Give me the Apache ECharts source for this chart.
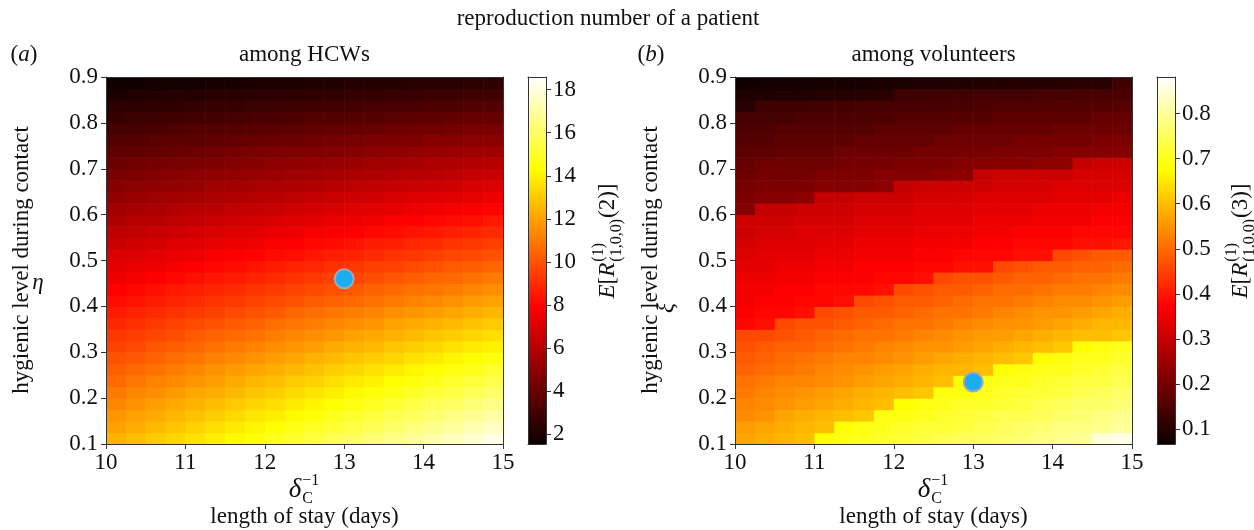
<!DOCTYPE html>
<html>
<head>
<meta charset="utf-8">
<title>reproduction number of a patient</title>
<script src="https://cdn.jsdelivr.net/npm/echarts@6/dist/echarts.min.js"></script>
<style>
  html, body { margin: 0; padding: 0; background: #ffffff; }
  #chart { width: 1254px; height: 530px; }
</style>
</head>
<body>
<div id="chart"></div>
<script>
// Cell centres: length of stay (days) and hygienic level during contact
const stayDays = [10.125, 10.375, 10.625, 10.875, 11.125, 11.375, 11.625, 11.875, 12.125, 12.375,
                  12.625, 12.875, 13.125, 13.375, 13.625, 13.875, 14.125, 14.375, 14.625, 14.875];
const hygieneLevels = [0.1125, 0.1375, 0.1625, 0.1875, 0.2125, 0.2375, 0.2625, 0.2875, 0.3125, 0.3375,
                       0.3625, 0.3875, 0.4125, 0.4375, 0.4625, 0.4875, 0.5125, 0.5375, 0.5625, 0.5875,
                       0.6125, 0.6375, 0.6625, 0.6875, 0.7125, 0.7375, 0.7625, 0.7875, 0.8125, 0.8375,
                       0.8625, 0.8875];

// Colour-scale limits and colourbar ticks
const hcwRange = [1.54, 18.59];
const hcwTicks = [2, 4, 6, 8, 10, 12, 14, 16, 18];
const volRange = [0.067, 0.881];
const volTicks = [0.1, 0.2, 0.3, 0.4, 0.5, 0.6, 0.7, 0.8];

// Baseline scenario markers [length of stay, hygienic level]
const hcwPoint = [13, 0.46];
const volPoint = [13, 0.235];

// E[R(2)] among HCWs: one row per hygienic level (bottom to top), one column per length of stay
const hcwValues = [
  [12.4,12.7,13.0,13.3,13.6,13.9,14.2,14.5,14.8,15.1,15.4,15.7,16.0,16.3,16.6,16.9,17.2,17.5,17.8,18.1],
  [12.0,12.3,12.6,12.9,13.2,13.5,13.8,14.1,14.4,14.7,15.0,15.2,15.5,15.8,16.1,16.4,16.7,17.0,17.3,17.6],
  [11.7,12.0,12.2,12.5,12.8,13.1,13.4,13.7,13.9,14.2,14.5,14.8,15.1,15.4,15.7,15.9,16.2,16.5,16.8,17.1],
  [11.3,11.6,11.9,12.2,12.4,12.7,13.0,13.3,13.5,13.8,14.1,14.4,14.6,14.9,15.2,15.5,15.8,16.0,16.3,16.6],
  [11.0,11.3,11.5,11.8,12.1,12.3,12.6,12.9,13.1,13.4,13.7,13.9,14.2,14.5,14.7,15.0,15.3,15.5,15.8,16.1],
  [10.6,10.9,11.2,11.4,11.7,11.9,12.2,12.5,12.7,13.0,13.2,13.5,13.8,14.0,14.3,14.5,14.8,15.1,15.3,15.6],
  [10.3,10.6,10.8,11.1,11.3,11.6,11.8,12.1,12.3,12.6,12.8,13.1,13.3,13.6,13.8,14.1,14.3,14.6,14.8,15.1],
  [10.0,10.2,10.4,10.7,10.9,11.2,11.4,11.6,11.9,12.1,12.4,12.6,12.9,13.1,13.3,13.6,13.8,14.1,14.3,14.6],
  [9.6,9.8,10.1,10.3,10.5,10.8,11.0,11.2,11.5,11.7,11.9,12.2,12.4,12.6,12.9,13.1,13.3,13.6,13.8,14.0],
  [9.3,9.5,9.7,9.9,10.2,10.4,10.6,10.8,11.1,11.3,11.5,11.7,12.0,12.2,12.4,12.6,12.9,13.1,13.3,13.5],
  [8.9,9.1,9.4,9.6,9.8,10.0,10.2,10.4,10.7,10.9,11.1,11.3,11.5,11.7,12.0,12.2,12.4,12.6,12.8,13.0],
  [8.6,8.8,9.0,9.2,9.4,9.6,9.8,10.0,10.2,10.5,10.7,10.9,11.1,11.3,11.5,11.7,11.9,12.1,12.3,12.5],
  [8.2,8.4,8.6,8.8,9.0,9.2,9.4,9.6,9.8,10.0,10.2,10.4,10.6,10.8,11.0,11.2,11.4,11.6,11.8,12.0],
  [7.9,8.1,8.3,8.5,8.7,8.8,9.0,9.2,9.4,9.6,9.8,10.0,10.2,10.4,10.6,10.8,10.9,11.1,11.3,11.5],
  [7.5,7.7,7.9,8.1,8.3,8.5,8.6,8.8,9.0,9.2,9.4,9.6,9.7,9.9,10.1,10.3,10.5,10.6,10.8,11.0],
  [7.2,7.4,7.5,7.7,7.9,8.1,8.2,8.4,8.6,8.8,8.9,9.1,9.3,9.5,9.6,9.8,10.0,10.2,10.3,10.5],
  [6.9,7.0,7.2,7.4,7.5,7.7,7.9,8.0,8.2,8.3,8.5,8.7,8.8,9.0,9.2,9.3,9.5,9.7,9.8,10.0],
  [6.5,6.7,6.8,7.0,7.1,7.3,7.5,7.6,7.8,7.9,8.1,8.2,8.4,8.6,8.7,8.9,9.0,9.2,9.3,9.5],
  [6.2,6.3,6.5,6.6,6.8,6.9,7.1,7.2,7.4,7.5,7.7,7.8,7.9,8.1,8.2,8.4,8.5,8.7,8.8,9.0],
  [5.8,6.0,6.1,6.2,6.4,6.5,6.7,6.8,6.9,7.1,7.2,7.4,7.5,7.6,7.8,7.9,8.1,8.2,8.3,8.5],
  [5.5,5.6,5.7,5.9,6.0,6.1,6.3,6.4,6.5,6.7,6.8,6.9,7.1,7.2,7.3,7.5,7.6,7.7,7.8,8.0],
  [5.1,5.3,5.4,5.5,5.6,5.7,5.9,6.0,6.1,6.2,6.4,6.5,6.6,6.7,6.9,7.0,7.1,7.2,7.3,7.5],
  [4.8,4.9,5.0,5.1,5.2,5.4,5.5,5.6,5.7,5.8,5.9,6.1,6.2,6.3,6.4,6.5,6.6,6.7,6.9,7.0],
  [4.4,4.5,4.7,4.8,4.9,5.0,5.1,5.2,5.3,5.4,5.5,5.6,5.7,5.8,5.9,6.0,6.1,6.2,6.4,6.5],
  [4.1,4.2,4.3,4.4,4.5,4.6,4.7,4.8,4.9,5.0,5.1,5.2,5.3,5.4,5.5,5.6,5.7,5.8,5.9,6.0],
  [3.8,3.8,3.9,4.0,4.1,4.2,4.3,4.4,4.5,4.6,4.6,4.7,4.8,4.9,5.0,5.1,5.2,5.3,5.4,5.5],
  [3.4,3.5,3.6,3.7,3.7,3.8,3.9,4.0,4.1,4.1,4.2,4.3,4.4,4.5,4.5,4.6,4.7,4.8,4.9,4.9],
  [3.1,3.1,3.2,3.3,3.4,3.4,3.5,3.6,3.6,3.7,3.8,3.9,3.9,4.0,4.1,4.2,4.2,4.3,4.4,4.4],
  [2.7,2.8,2.8,2.9,3.0,3.0,3.1,3.2,3.2,3.3,3.4,3.4,3.5,3.5,3.6,3.7,3.7,3.8,3.9,3.9],
  [2.4,2.4,2.5,2.5,2.6,2.7,2.7,2.8,2.8,2.9,2.9,3.0,3.0,3.1,3.2,3.2,3.3,3.3,3.4,3.4],
  [2.0,2.1,2.1,2.2,2.2,2.3,2.3,2.4,2.4,2.5,2.5,2.5,2.6,2.6,2.7,2.7,2.8,2.8,2.9,2.9],
  [1.7,1.7,1.8,1.8,1.8,1.9,1.9,2.0,2.0,2.0,2.1,2.1,2.2,2.2,2.2,2.3,2.3,2.3,2.4,2.4]
];

// E[R(3)] among volunteers, same layout
const volValues = [
  [0.57,0.58,0.59,0.60,0.68,0.69,0.70,0.71,0.72,0.73,0.74,0.75,0.75,0.76,0.77,0.78,0.79,0.80,0.85,0.86],
  [0.56,0.57,0.58,0.59,0.60,0.68,0.69,0.70,0.71,0.72,0.72,0.73,0.74,0.75,0.76,0.77,0.78,0.78,0.79,0.80],
  [0.54,0.55,0.57,0.58,0.59,0.60,0.61,0.69,0.69,0.70,0.71,0.72,0.73,0.74,0.74,0.75,0.76,0.77,0.78,0.79],
  [0.53,0.54,0.55,0.56,0.57,0.58,0.59,0.60,0.68,0.69,0.70,0.71,0.71,0.72,0.73,0.74,0.75,0.76,0.76,0.77],
  [0.52,0.53,0.54,0.55,0.56,0.57,0.58,0.59,0.60,0.61,0.69,0.69,0.70,0.71,0.72,0.72,0.73,0.74,0.75,0.76],
  [0.51,0.52,0.53,0.53,0.54,0.55,0.56,0.57,0.58,0.59,0.60,0.68,0.69,0.70,0.70,0.71,0.72,0.73,0.73,0.74],
  [0.49,0.50,0.51,0.52,0.53,0.54,0.55,0.56,0.57,0.58,0.59,0.59,0.60,0.68,0.69,0.70,0.70,0.71,0.72,0.73],
  [0.48,0.49,0.50,0.51,0.52,0.53,0.53,0.54,0.55,0.56,0.57,0.58,0.59,0.60,0.61,0.68,0.69,0.70,0.70,0.71],
  [0.47,0.48,0.49,0.49,0.50,0.51,0.52,0.53,0.54,0.55,0.55,0.56,0.57,0.58,0.59,0.60,0.61,0.68,0.69,0.70],
  [0.46,0.46,0.47,0.48,0.49,0.50,0.51,0.51,0.52,0.53,0.54,0.55,0.56,0.56,0.57,0.58,0.59,0.60,0.60,0.61],
  [0.38,0.39,0.46,0.47,0.47,0.48,0.49,0.50,0.51,0.51,0.52,0.53,0.54,0.55,0.55,0.56,0.57,0.58,0.59,0.59],
  [0.37,0.38,0.38,0.39,0.46,0.47,0.48,0.48,0.49,0.50,0.51,0.51,0.52,0.53,0.54,0.55,0.55,0.56,0.57,0.58],
  [0.36,0.37,0.37,0.38,0.38,0.39,0.46,0.47,0.48,0.48,0.49,0.50,0.51,0.51,0.52,0.53,0.54,0.54,0.55,0.56],
  [0.36,0.36,0.37,0.37,0.38,0.38,0.38,0.39,0.46,0.47,0.48,0.48,0.49,0.50,0.50,0.51,0.52,0.52,0.53,0.54],
  [0.35,0.35,0.36,0.36,0.37,0.37,0.37,0.38,0.38,0.39,0.46,0.47,0.47,0.48,0.49,0.49,0.50,0.51,0.51,0.52],
  [0.34,0.34,0.35,0.35,0.36,0.36,0.37,0.37,0.37,0.38,0.38,0.39,0.39,0.46,0.47,0.48,0.48,0.49,0.49,0.50],
  [0.33,0.34,0.34,0.34,0.35,0.35,0.36,0.36,0.36,0.37,0.37,0.38,0.38,0.38,0.39,0.39,0.46,0.47,0.48,0.48],
  [0.32,0.33,0.33,0.33,0.34,0.34,0.35,0.35,0.35,0.36,0.36,0.36,0.37,0.37,0.38,0.38,0.38,0.39,0.39,0.40],
  [0.31,0.32,0.32,0.33,0.33,0.33,0.34,0.34,0.34,0.35,0.35,0.35,0.36,0.36,0.37,0.37,0.37,0.38,0.38,0.38],
  [0.31,0.31,0.31,0.32,0.32,0.32,0.33,0.33,0.33,0.34,0.34,0.34,0.35,0.35,0.35,0.36,0.36,0.36,0.37,0.37],
  [0.22,0.30,0.30,0.31,0.31,0.31,0.32,0.32,0.32,0.33,0.33,0.33,0.34,0.34,0.34,0.35,0.35,0.35,0.36,0.36],
  [0.21,0.22,0.22,0.23,0.30,0.30,0.31,0.31,0.31,0.32,0.32,0.32,0.33,0.33,0.33,0.33,0.34,0.34,0.34,0.35],
  [0.20,0.21,0.21,0.21,0.22,0.22,0.22,0.23,0.30,0.31,0.31,0.31,0.31,0.32,0.32,0.32,0.33,0.33,0.33,0.33],
  [0.19,0.20,0.20,0.20,0.21,0.21,0.21,0.22,0.22,0.22,0.23,0.23,0.30,0.31,0.31,0.31,0.31,0.32,0.32,0.32],
  [0.18,0.19,0.19,0.19,0.19,0.20,0.20,0.20,0.21,0.21,0.21,0.22,0.22,0.22,0.22,0.23,0.23,0.30,0.31,0.31],
  [0.17,0.17,0.18,0.18,0.18,0.19,0.19,0.19,0.19,0.20,0.20,0.20,0.20,0.21,0.21,0.21,0.22,0.22,0.22,0.22],
  [0.16,0.16,0.17,0.17,0.17,0.17,0.18,0.18,0.18,0.18,0.19,0.19,0.19,0.19,0.20,0.20,0.20,0.20,0.21,0.21],
  [0.15,0.15,0.16,0.16,0.16,0.16,0.16,0.17,0.17,0.17,0.17,0.18,0.18,0.18,0.18,0.18,0.19,0.19,0.19,0.19],
  [0.14,0.14,0.14,0.15,0.15,0.15,0.15,0.15,0.16,0.16,0.16,0.16,0.16,0.17,0.17,0.17,0.17,0.17,0.18,0.18],
  [0.104,0.132,0.133,0.135,0.137,0.138,0.140,0.142,0.143,0.145,0.147,0.148,0.150,0.152,0.153,0.155,0.157,0.158,0.160,0.162],
  [0.090,0.092,0.094,0.096,0.098,0.100,0.102,0.104,0.131,0.132,0.134,0.135,0.136,0.138,0.139,0.141,0.142,0.144,0.145,0.147],
  [0.075,0.077,0.078,0.080,0.082,0.083,0.085,0.087,0.088,0.090,0.091,0.093,0.095,0.096,0.098,0.100,0.101,0.103,0.104,0.131]
];

// "hot" colour map, evenly spaced stops
const HOT = ['#0b0000', '#5c0000', '#ae0000', '#ff0000', '#ff5500', '#ffaa00', '#ffff00', '#ffff80', '#ffffff'];

const SERIF = '"Liberation Serif", "Times New Roman", "DejaVu Serif", serif';
const INK = '#111111';
const FRAME = '#333333';
const FS = 23;

const halfX = (stayDays[1] - stayDays[0]) / 2;
const halfY = (hygieneLevels[1] - hygieneLevels[0]) / 2;

function toCells(values) {
  const out = [];
  values.forEach((row, j) => row.forEach((v, i) => out.push([stayDays[i], hygieneLevels[j], v])));
  return out;
}

function renderCell(params, api) {
  const x = api.value(0), y = api.value(1);
  const a = api.coord([x - halfX, y + halfY]);
  const b = api.coord([x + halfX, y - halfY]);
  return {
    type: 'rect',
    shape: { x: a[0], y: a[1], width: b[0] - a[0] + 0.6, height: b[1] - a[1] + 0.6 },
    style: { fill: api.visual('color') }
  };
}

function renderBar(params, api) {
  const a = api.coord([0, api.value(2)]);
  const b = api.coord([1, api.value(1)]);
  return {
    type: 'rect',
    shape: { x: a[0], y: a[1], width: b[0] - a[0], height: b[1] - a[1] },
    style: {
      fill: new echarts.graphic.LinearGradient(0, 1, 0, 0,
        HOT.map((c, k) => ({ offset: k / (HOT.length - 1), color: c })))
    }
  };
}

// --- axes helpers ---
function lineAxis(gridIndex, position, min, max) {
  return {
    type: 'value', gridIndex, position, min, max, z: 5,
    axisLine: { show: true, onZero: false, lineStyle: { color: FRAME, width: 1 } },
    axisTick: { show: false }, axisLabel: { show: false }, splitLine: { show: false }
  };
}
function tickAxis(gridIndex, position, min, max, interval, margin) {
  return {
    type: 'value', gridIndex, position, min, max, interval, z: 5,
    axisLine: { show: true, onZero: false, lineStyle: { color: FRAME, width: 1 } },
    axisTick: { show: true, inside: false, length: 5, lineStyle: { color: FRAME } },
    axisLabel: { show: true, margin, color: INK, fontSize: FS, fontFamily: SERIF },
    splitLine: { show: false }
  };
}
function barAxis(gridIndex, range, ticks, digits) {
  return {
    type: 'value', gridIndex, position: 'right', min: range[0], max: range[1], z: 5,
    axisLine: { show: true, onZero: false, lineStyle: { color: FRAME, width: 1 } },
    axisTick: { show: true, inside: false, length: 5, customValues: ticks, lineStyle: { color: FRAME } },
    axisLabel: {
      show: true, customValues: ticks, margin: 7, color: INK, fontSize: FS, fontFamily: SERIF,
      formatter: v => Number(v).toFixed(digits)
    },
    splitLine: { show: false }
  };
}

// --- typeset labels with stacked super/subscripts ---
const measureCtx = document.createElement('canvas').getContext('2d');
function textWidth(t, size, italic) {
  measureCtx.font = (italic ? 'italic ' : '') + size + 'px ' + SERIF;
  return measureCtx.measureText(t).width;
}
function mathRun(parts, base, small) {
  let x = 0;
  const kids = [];
  const txt = (t, px, py, size, italic) => ({
    type: 'text', x: px, y: py,
    style: { text: t, font: (italic ? 'italic ' : '') + size + 'px ' + SERIF, fill: INK, align: 'left', verticalAlign: 'middle' }
  });
  parts.forEach(p => {
    if (p.t !== undefined) {
      const size = p.size || base;
      kids.push(txt(p.t, x, 0, size, p.italic));
      x += textWidth(p.t, size, p.italic);
    } else {
      const w = Math.max(textWidth(p.sup || '', small), textWidth(p.sub || '', small));
      if (p.sup) kids.push(txt(p.sup, x + 1, -base * 0.42, small, false));
      if (p.sub) kids.push(txt(p.sub, x + 1, base * 0.40, small, false));
      x += w + 2;
    }
  });
  kids.forEach(k => { k.x -= x / 2; });
  return kids;
}
function group(x, y, children, rotation) {
  return { type: 'group', x, y, rotation: rotation || 0, children };
}
function plain(t, x, y, size, rotation) {
  return group(x, y, [{
    type: 'text', x: 0, y: 0,
    style: { text: t, font: (size || FS) + 'px ' + SERIF, fill: INK, align: 'center', verticalAlign: 'middle' }
  }], rotation);
}

const UP = Math.PI / 2;
const stayName = [{ t: 'δ', italic: true, size: 27 }, { sup: '−1', sub: 'C' }];
const cbarName = n => [{ t: 'E', italic: true }, { t: '[' }, { t: 'R', italic: true },
                       { sup: '(1)', sub: '(1,0,0)' }, { t: '(' + n + ')]' }];

const graphics = [
  plain('reproduction number of a patient', 608, 19),
  group(24, 55, mathRun([{ t: '(' }, { t: 'a', italic: true }, { t: ')' }], FS, 16)),
  plain('among HCWs', 304.5, 55),
  group(651, 55, mathRun([{ t: '(' }, { t: 'b', italic: true }, { t: ')' }], FS, 16)),
  plain('among volunteers', 933.5, 55),

  plain('hygienic level during contact', 22, 260, FS, UP),
  group(38, 283, mathRun([{ t: 'η', italic: true }], FS, 16)),
  plain('hygienic level during contact', 651, 260, FS, UP),
  group(667, 308, mathRun([{ t: 'ξ', italic: true }], FS, 16), UP),

  group(304.5, 490, mathRun(stayName, FS, 16)),
  plain('length of stay (days)', 304.5, 517),
  group(933.5, 490, mathRun(stayName, FS, 16)),
  plain('length of stay (days)', 933.5, 517),

  group(608, 241, mathRun(cbarName(2), FS, 16), UP),
  group(1241, 241, mathRun(cbarName(3), FS, 16), UP)
];

const marker = {
  symbol: 'circle', symbolSize: 19, z: 10,
  itemStyle: { color: '#1aaef0', borderColor: '#a6a6b6', borderWidth: 2, opacity: 1 }
};

const option = {
  animation: false,
  backgroundColor: '#ffffff',
  grid: [
    { left: 106, top: 77, width: 397, height: 367 },
    { left: 528, top: 77, width: 18, height: 367 },
    { left: 735, top: 77, width: 397, height: 367 },
    { left: 1157, top: 77, width: 18, height: 367 }
  ],
  xAxis: [
    tickAxis(0, 'bottom', 10, 15, 1, 7),
    lineAxis(0, 'top', 10, 15),
    lineAxis(1, 'bottom', 0, 1),
    lineAxis(1, 'top', 0, 1),
    tickAxis(2, 'bottom', 10, 15, 1, 7),
    lineAxis(2, 'top', 10, 15),
    lineAxis(3, 'bottom', 0, 1),
    lineAxis(3, 'top', 0, 1)
  ],
  yAxis: [
    tickAxis(0, 'left', 0.1, 0.9, 0.1, 8),
    lineAxis(0, 'right', 0.1, 0.9),
    lineAxis(1, 'left', hcwRange[0], hcwRange[1]),
    barAxis(1, hcwRange, hcwTicks, 0),
    tickAxis(2, 'left', 0.1, 0.9, 0.1, 8),
    lineAxis(2, 'right', 0.1, 0.9),
    lineAxis(3, 'left', volRange[0], volRange[1]),
    barAxis(3, volRange, volTicks, 1)
  ],
  visualMap: [
    { type: 'continuous', show: false, seriesIndex: 0, dimension: 2,
      min: hcwRange[0], max: hcwRange[1], inRange: { color: HOT } },
    { type: 'continuous', show: false, seriesIndex: 3, dimension: 2,
      min: volRange[0], max: volRange[1], inRange: { color: HOT } }
  ],
  series: [
    { type: 'custom', name: 'HCWs', xAxisIndex: 0, yAxisIndex: 0, clip: true,
      renderItem: renderCell, data: toCells(hcwValues) },
    Object.assign({ type: 'scatter', xAxisIndex: 0, yAxisIndex: 0, data: [hcwPoint] }, marker),
    { type: 'custom', xAxisIndex: 2, yAxisIndex: 3, renderItem: renderBar,
      data: [[0.5, hcwRange[0], hcwRange[1]]] },
    { type: 'custom', name: 'volunteers', xAxisIndex: 4, yAxisIndex: 4, clip: true,
      renderItem: renderCell, data: toCells(volValues) },
    Object.assign({ type: 'scatter', xAxisIndex: 4, yAxisIndex: 4, data: [volPoint] }, marker),
    { type: 'custom', xAxisIndex: 6, yAxisIndex: 7, renderItem: renderBar,
      data: [[0.5, volRange[0], volRange[1]]] }
  ],
  graphic: graphics
};

const chart = echarts.init(document.getElementById('chart'), null, { renderer: 'canvas' });
chart.setOption(option);
</script>
</body>
</html>
